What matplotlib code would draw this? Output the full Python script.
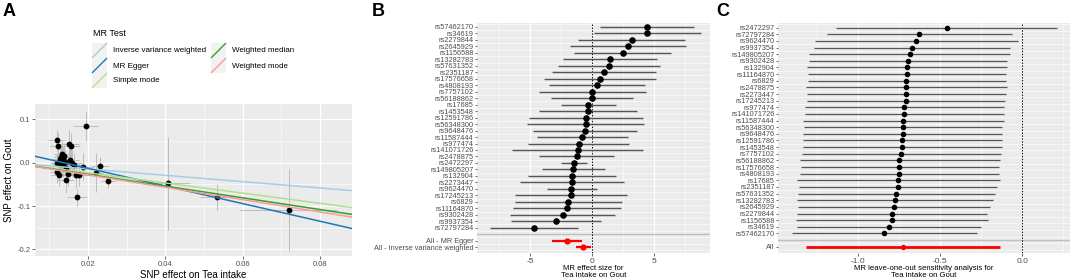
import matplotlib
matplotlib.use("Agg")
import matplotlib.pyplot as plt
import numpy as np
from matplotlib.patches import Rectangle

plt.rcParams['font.family'] = ['Liberation Sans', 'DejaVu Sans']

# ---------------- data ----------------
# panel A: per-SNP effects
snp_bx = [0.0194, 0.0119, 0.0122, 0.0151, 0.0155, 0.0134, 0.0137, 0.0131, 0.0135, 0.0153,
          0.0160, 0.0120, 0.0127, 0.0135, 0.0142, 0.0163, 0.0187, 0.0232, 0.0121, 0.0124,
          0.0148, 0.0168, 0.0177, 0.0220, 0.0143, 0.0253, 0.0172, 0.0408, 0.0534, 0.0719,
          0.0128, 0.0140]
snp_by = [0.084, 0.051, 0.038, 0.044, 0.038, 0.021, 0.016, 0.013, 0.009, 0.005,
          0.000, 0.000, -0.004, -0.004, -0.012, -0.006, -0.009, -0.008, -0.022, -0.028,
          -0.026, -0.028, -0.028, -0.023, -0.041, -0.043, -0.080, -0.048, -0.080, -0.109,
          0.009, 0.002]
snp_bx_err = [0.0033, 0.0022, 0.0020, 0.0025, 0.0024, 0.0021, 0.0022, 0.0020, 0.0021, 0.0024,
              0.0025, 0.0019, 0.0020, 0.0021, 0.0022, 0.0025, 0.0028, 0.0022, 0.0019, 0.0020,
              0.0023, 0.0026, 0.0027, 0.0020, 0.0022, 0.0020, 0.0025, 0.0055, 0.0043, 0.0125,
              0.0020, 0.0022]
snp_by_err = [0.034, 0.025, 0.030, 0.032, 0.030, 0.028, 0.030, 0.026, 0.028, 0.030,
              0.030, 0.022, 0.026, 0.028, 0.030, 0.028, 0.032, 0.020, 0.024, 0.026,
              0.028, 0.030, 0.026, 0.045, 0.030, 0.015, 0.020, 0.108, 0.030, 0.094,
              0.025, 0.028]

methods = ["Inverse variance weighted", "MR Egger", "Simple mode",
           "Weighted median", "Weighted mode"]
method_slope = [-0.73, -2.03, -1.17, -1.35, -1.42]
method_intercept = [0.0, 0.0275, 0.0, 0.0, 0.0]
method_color = ["#A6CEE3", "#1F78B4", "#B2DF8A", "#33A02C", "#FB9A99"]

# panel B: single SNP forest
b_snps = ["rs57462170", "rs34619", "rs2279844", "rs2645929", "rs1156588", "rs13282783",
          "rs57631352", "rs2351187", "rs17576658", "rs4808193", "rs7757102", "rs56188862",
          "rs17685", "rs1453548", "rs12591786", "rs56348300", "rs9648476", "rs11587444",
          "rs977474", "rs141071726", "rs2478875", "rs2472297", "rs149805207", "rs132904",
          "rs2273447", "rs9624470", "rs17245213", "rs6829", "rs11164870", "rs9302428",
          "rs9937354", "rs72797284"]
b_est = [4.40, 4.40, 3.17, 2.88, 2.45, 1.41, 1.33, 0.93, 0.61, 0.40, 0.00, -0.03,
         -0.32, -0.35, -0.50, -0.53, -0.56, -0.80, -1.09, -1.17, -1.25, -1.49, -1.55, -1.63,
         -1.65, -1.68, -1.73, -1.92, -2.05, -2.40, -2.96, -4.69]
b_lo = [0.64, 0.10, -1.17, -1.76, -1.47, -2.40, -2.75, -3.28, -3.92, -3.47, -4.29, -3.33,
        -2.56, -4.32, -5.09, -5.28, -4.77, -4.45, -5.20, -6.45, -4.27, -2.56, -4.05, -5.20,
        -5.84, -3.68, -6.21, -6.24, -6.40, -6.64, -6.56, -8.29]
b_hi = [8.20, 8.80, 7.50, 7.55, 6.35, 5.20, 5.44, 5.15, 5.12, 4.29, 4.35, 3.28,
        1.92, 3.65, 4.08, 4.19, 3.65, 2.85, 3.00, 4.10, 1.79, -0.40, 1.01, 1.89,
        2.59, 0.35, 2.77, 2.37, 2.29, 1.87, 0.67, -1.15]
b_sum_labels = ["All - MR Egger", "All - Inverse variance weighted"]
b_sum_est = [-2.03, -0.72]
b_sum_lo = [-3.25, -1.33]
b_sum_hi = [-0.80, -0.13]

# panel C: leave-one-out
c_snps = ["rs2472297", "rs72797284", "rs9624470", "rs9937354", "rs149805207", "rs9302428",
          "rs132904", "rs11164870", "rs6829", "rs2478875", "rs2273447", "rs17245213",
          "rs977474", "rs141071726", "rs11587444", "rs56348300", "rs9648476", "rs12591786",
          "rs1453548", "rs7757102", "rs56188862", "rs17576658", "rs4808193", "rs17685",
          "rs2351187", "rs57631352", "rs13282783", "rs2645929", "rs2279844", "rs1156588",
          "rs34619", "rs57462170"]
c_est = [-0.461, -0.628, -0.646, -0.673, -0.687, -0.699, -0.705, -0.705, -0.707, -0.709,
         -0.711, -0.711, -0.720, -0.722, -0.726, -0.730, -0.730, -0.732, -0.734, -0.740,
         -0.750, -0.750, -0.752, -0.756, -0.758, -0.768, -0.774, -0.780, -0.793, -0.795,
         -0.813, -0.841]
c_lo = [-1.138, -1.193, -1.264, -1.268, -1.301, -1.301, -1.311, -1.309, -1.309, -1.321,
        -1.315, -1.315, -1.327, -1.327, -1.335, -1.333, -1.337, -1.335, -1.339, -1.343,
        -1.354, -1.350, -1.356, -1.374, -1.360, -1.366, -1.372, -1.368, -1.374, -1.382,
        -1.372, -1.402]
c_hi = [0.213, -0.063, -0.028, -0.075, -0.073, -0.096, -0.096, -0.100, -0.102, -0.096,
        -0.102, -0.104, -0.114, -0.114, -0.114, -0.122, -0.122, -0.124, -0.126, -0.132,
        -0.138, -0.142, -0.142, -0.134, -0.156, -0.167, -0.177, -0.195, -0.213, -0.207,
        -0.254, -0.278]
c_all = [-0.728, -1.317, -0.136]

# ---------------- style ----------------
W, H = 1072, 280
BG = "#EBEBEB"
TICKC = "#4D4D4D"

fig = plt.figure(figsize=(W / 100, H / 100), dpi=100)


def px_axes(x0, y0, x1, y1):
    return fig.add_axes([x0 / W, 1 - y1 / H, (x1 - x0) / W, (y1 - y0) / H])


def gg_style(ax):
    ax.set_facecolor(BG)
    for s in ax.spines.values():
        s.set_visible(False)
    ax.tick_params(colors="#333333", labelcolor=TICKC, length=2.2, width=0.5, pad=1.2)


# ---------------- panel A ----------------
axA = px_axes(35, 104, 352, 256)
gg_style(axA)
axA.set_xlim(0.0063, 0.0883)
axA.set_ylim(-0.215, 0.135)
for v in [0.01, 0.03, 0.05, 0.07]:
    axA.axvline(v, color="white", lw=0.4, zorder=0)
for v in [0.02, 0.04, 0.06, 0.08]:
    axA.axvline(v, color="white", lw=0.9, zorder=0)
for v in [-0.15, -0.05, 0.05]:
    axA.axhline(v, color="white", lw=0.4, zorder=0)
for v in [-0.2, -0.1, 0.0, 0.1]:
    axA.axhline(v, color="white", lw=0.9, zorder=0)
axA.errorbar(snp_bx, snp_by, xerr=snp_bx_err, yerr=snp_by_err, fmt="none",
             ecolor="#BDBDBD", elinewidth=0.7, capsize=0, zorder=2)
axA.scatter(snp_bx, snp_by, s=10, color="black", zorder=3)
xx = np.array(axA.get_xlim())
for m, sl, ic, col in zip(methods, method_slope, method_intercept, method_color):
    axA.plot(xx, ic + sl * xx, color=col, lw=1.1, zorder=4)
axA.set_xticks([0.02, 0.04, 0.06, 0.08])
axA.set_xticklabels(["0.02", "0.04", "0.06", "0.08"], fontsize=5.5)
axA.set_yticks([-0.2, -0.1, 0.0, 0.1])
axA.set_yticklabels(["-0.2", "-0.1", "0.0", "0.1"], fontsize=5.5)
axA.set_xlabel("SNP effect on Tea intake", fontsize=7, labelpad=1.5)
axA.set_ylabel("SNP effect on Gout", fontsize=7, labelpad=2)

# legend for panel A in pixel coordinates
lg = fig.add_axes([0, 0, 1, 1], zorder=-1)
lg.set_xlim(0, W)
lg.set_ylim(H, 0)
lg.axis("off")
lg.text(93, 33, "MR Test", fontsize=6.5, va="center", ha="left")
key_pos = [(92, 43), (92, 58), (92, 73), (211, 43), (211, 58)]
for (kx, ky), m, col in zip(key_pos, methods, method_color):
    lg.add_patch(Rectangle((kx, ky), 15, 15, color="#F2F2F2", lw=0))
    lg.plot([kx + 0.5, kx + 14.5], [ky + 14.5, ky + 0.5], color=col, lw=1.0)
    lg.text(kx + 21, ky + 8, m, fontsize=5.8, va="center", ha="left")

fig.text(3 / W, 1 - 12 / H, "A", fontsize=13, fontweight="bold", va="center", ha="left")
fig.text(372 / W, 1 - 12 / H, "B", fontsize=13, fontweight="bold", va="center", ha="left")
fig.text(716 / W, 1 - 12 / H, "C", fontsize=13, fontweight="bold", va="center", ha="left")

# ---------------- panel B ----------------
axB = px_axes(477, 23, 710, 253)
gg_style(axB)
nB = len(b_snps)
yB = np.arange(1, nB + 1)
ysum = np.array([nB + 2, nB + 3])
axB.set_xlim(-9.3, 9.5)
axB.set_ylim(nB + 3.9, 0.4)
for v in [-7.5, -2.5, 2.5, 7.5]:
    axB.axvline(v, color="white", lw=0.4, zorder=0)
for v in [-5, 0, 5]:
    axB.axvline(v, color="white", lw=0.9, zorder=0)
for v in np.arange(0.5, nB + 3.6, 1):
    axB.axhline(v, color="white", lw=0.4, zorder=0)
axB.axhline(nB + 1, color="#BEBEBE", lw=1.0, zorder=1)
axB.axvline(0, color="black", lw=0.7, ls=(0, (1.5, 1.5)), zorder=1)
axB.hlines(yB, b_lo, b_hi, color="#555555", lw=1.0, zorder=2)
axB.scatter(b_est, yB, s=14, color="black", zorder=3)
axB.hlines(ysum, b_sum_lo, b_sum_hi, color="red", lw=1.6, zorder=2)
axB.scatter(b_sum_est, ysum, s=12, color="red", zorder=3)
axB.set_yticks(list(yB) + list(ysum))
axB.set_yticklabels(b_snps + b_sum_labels, fontsize=5.3)
axB.tick_params(axis="y", length=1.5, pad=1)
axB.set_xticks([-5, 0, 5])
axB.set_xticklabels(["-5", "0", "5"], fontsize=6)
fig.text(593.5 / W, 1 - 272 / H, "MR effect size for\nTea intake on Gout",
         fontsize=5.6, ha="center", va="center", linespacing=1.05)

# ---------------- panel C ----------------
axC = px_axes(778, 23, 1070, 253)
gg_style(axC)
nC = len(c_snps)
yC = np.arange(1, nC + 1)
axC.set_xlim(-1.49, 0.29)
axC.set_ylim(nC + 2.95, 0.3)
for v in [-1.25, -0.75, -0.25, 0.25]:
    axC.axvline(v, color="white", lw=0.4, zorder=0)
for v in [-1.0, -0.5, 0.0]:
    axC.axvline(v, color="white", lw=0.9, zorder=0)
for v in np.arange(0.5, nC + 2.6, 1):
    axC.axhline(v, color="white", lw=0.4, zorder=0)
axC.axhline(nC + 1, color="#BEBEBE", lw=1.0, zorder=1)
axC.axvline(0, color="black", lw=0.7, ls=(0, (1.5, 1.5)), zorder=1)
axC.hlines(yC, c_lo, c_hi, color="#555555", lw=0.9, zorder=2)
axC.scatter(c_est, yC, s=9, color="black", zorder=3)
axC.hlines([nC + 2], [c_all[1]], [c_all[2]], color="red", lw=2.0, zorder=2)
axC.scatter([c_all[0]], [nC + 2], s=8, color="red", zorder=3)
axC.set_yticks(list(yC) + [nC + 2])
axC.set_yticklabels(c_snps + ["All"], fontsize=5.3)
axC.tick_params(axis="y", length=1.5, pad=1)
axC.set_xticks([-1.0, -0.5, 0.0])
axC.set_xticklabels(["-1.0", "-0.5", "0.0"], fontsize=6)
fig.text(924 / W, 1 - 272 / H,
         "MR leave-one-out sensitivity analysis for\nTea intake on Gout",
         fontsize=5.6, ha="center", va="center", linespacing=1.05)

fig.savefig("out.png", dpi=100)
